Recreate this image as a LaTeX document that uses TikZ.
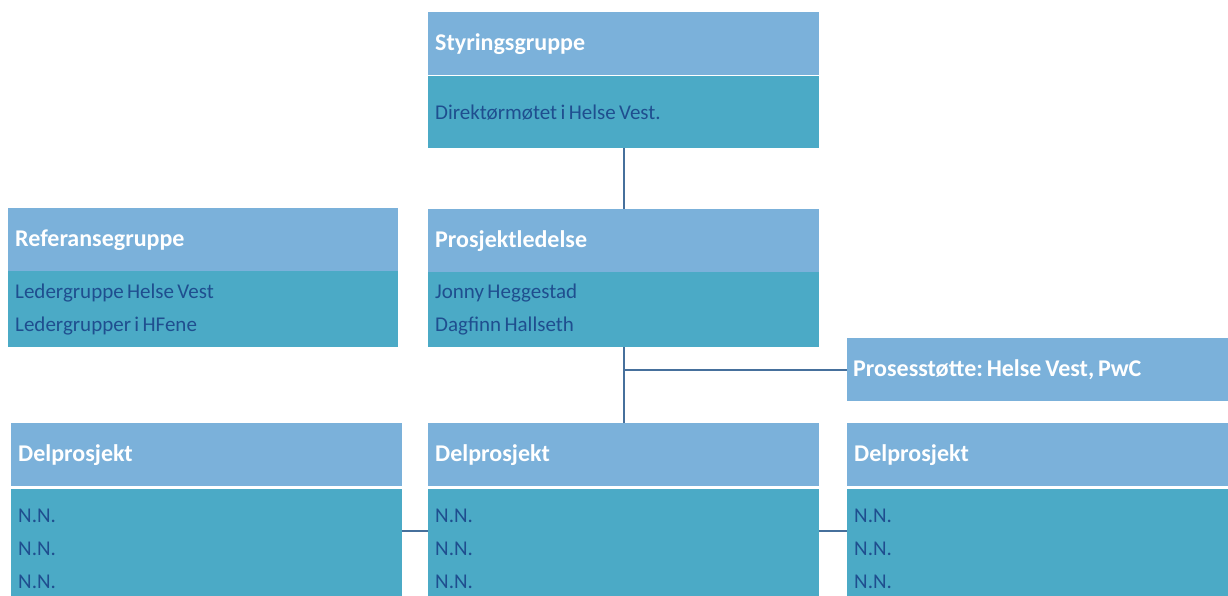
\documentclass[tikz,border=0pt]{standalone}
\usepackage{fontspec}
\setmainfont{Carlito}
\frenchspacing
\definecolor{hdrc}{HTML}{7BB1DA}
\definecolor{bdyc}{HTML}{4BAAC6}
\definecolor{txtc}{HTML}{1F4E8F}
\definecolor{linc}{HTML}{46709C}
\newcommand{\tightspacing}{\frenchspacing\spaceskip=0.16em plus 0.05em\relax}
\begin{document}
\begin{tikzpicture}[x=1pt,y=-1pt,
  hd/.style={fill=hdrc, anchor=north west, inner xsep=7pt, inner ysep=0pt,
    text width=377pt, minimum height=63pt, align=left, text=white,
    font=\fontsize{24}{28}\selectfont\bfseries,
    execute at begin node=\tightspacing},
  bd/.style={fill=bdyc, anchor=north west, inner xsep=7pt, inner ysep=0pt,
    text width=377pt, align=left, text=txtc,
    font=\fontsize{21}{33}\selectfont,
    execute at begin node=\tightspacing},
  conn/.style={draw=linc, line width=1.6pt}]
\useasboundingbox (0,0) rectangle (1228,595);
\clip (0,0) rectangle (1228,595);
% Styringsgruppe
\node[hd] (sgh) at (428,12) {Styringsgruppe};
\node[bd, minimum height=72pt] (sgb) at (428,76) {Direktørmøtet i Helse Vest.};
% Referansegruppe
\node[hd, text width=376pt] (rgh) at (8,208) {Referansegruppe};
\node[bd, text width=376pt, minimum height=76pt] (rgb) at (8,271) {Ledergruppe Helse Vest\\Ledergrupper i HFene};
% Prosjektledelse
\node[hd] (plh) at (428,209) {Prosjektledelse};
\node[bd, minimum height=75pt] (plb) at (428,272) {Jonny Heggestad\\Dagfinn Hallseth};
% Prosesstøtte
\node[hd, inner xsep=6pt] (ps) at (847,338) {Prosesstøtte: Helse Vest, PwC};
% Delprosjekt
\node[hd] (d1h) at (11,423) {Delprosjekt};
\node[bd, minimum height=120pt] (d1b) at (11,489) {N.N.\\N.N.\\N.N.};
\node[hd] (d2h) at (428,423) {Delprosjekt};
\node[bd, minimum height=120pt] (d2b) at (428,489) {N.N.\\N.N.\\N.N.};
\node[hd] (d3h) at (847,423) {Delprosjekt};
\node[bd, minimum height=120pt] (d3b) at (847,489) {N.N.\\N.N.\\N.N.};
% connectors
\draw[conn] (sgb.south) -- (plh.north);
\draw[conn] (plb.south) -- (d2h.north);
\coordinate (j) at (plb.south |- ps.west);
\draw[conn] (j) -- (ps.west);
\draw[conn] ([yshift=-42pt]d1b.north east) -- ([yshift=-42pt]d2b.north west);
\draw[conn] ([yshift=-42pt]d2b.north east) -- ([yshift=-42pt]d3b.north west);
\end{tikzpicture}
\end{document}
